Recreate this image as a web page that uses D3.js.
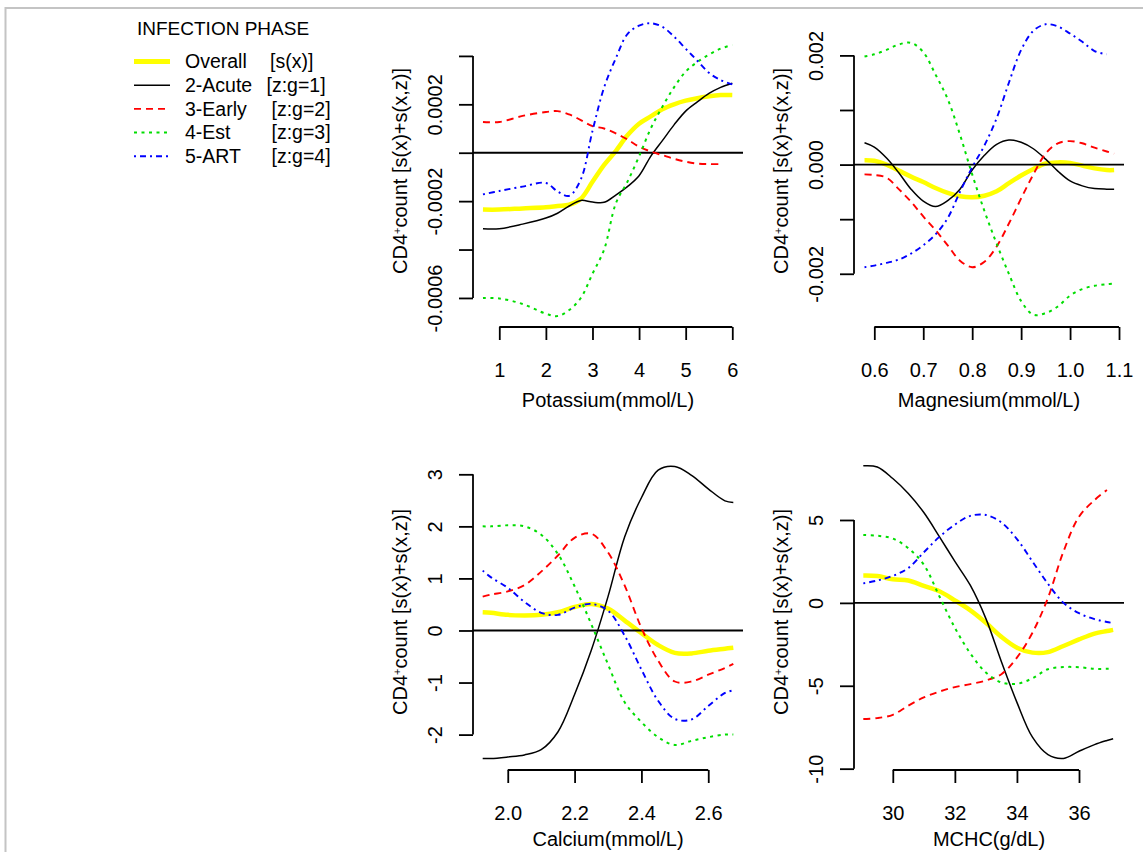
<!DOCTYPE html>
<html>
<head>
<meta charset="utf-8">
<script src="https://cdn.jsdelivr.net/npm/d3@7"></script>
<style>
  body { margin: 0; background: #fff; }
  svg { display: block; }
  text { font-family: Arial, "Liberation Sans", sans-serif; fill: #000; }
</style>
</head>
<body>
<svg id="chart" width="1143" height="852"></svg>
<script>
// ---- legend ----
const seriesNames = ["Overall", "2-Acute", "3-Early", "4-Est", "5-ART"];
const seriesTerms = ["[s(x)]", "[z:g=1]", "[z:g=2]", "[z:g=3]", "[z:g=4]"];
const legendTitle = "INFECTION PHASE";

// ---- Potassium (mmol/L) ----
const kX       = [0.65, 1.0, 1.5, 2.0, 2.25, 2.5, 2.75, 3.0, 3.25, 3.5, 3.75, 4.0, 4.25, 4.5, 4.75, 5.0, 5.25, 5.5, 5.75, 6.0];
const kOverall = [-2.35e-4, -2.35e-4, -2.3e-4, -2.25e-4, -2.2e-4, -2.15e-4, -1.9e-4, -1.2e-4, -0.5e-4, 0.07e-4, 0.72e-4, 1.2e-4, 1.5e-4, 1.8e-4, 2.0e-4, 2.15e-4, 2.25e-4, 2.33e-4, 2.38e-4, 2.38e-4];
const kAcute   = [-3.14e-4, -3.14e-4, -2.95e-4, -2.7e-4, -2.5e-4, -2.2e-4, -1.97e-4, -2.04e-4, -2.05e-4, -1.75e-4, -1.4e-4, -0.95e-4, -0.15e-4, 0.5e-4, 1.15e-4, 1.72e-4, 2.1e-4, 2.45e-4, 2.7e-4, 2.87e-4];
const kEarly   = [1.27e-4, 1.27e-4, 1.52e-4, 1.68e-4, 1.72e-4, 1.58e-4, 1.35e-4, 1.1e-4, 1.0e-4, 0.8e-4, 0.55e-4, 0.25e-4, 0.05e-4, -0.1e-4, -0.25e-4, -0.37e-4, -0.45e-4, -0.47e-4, -0.47e-4, null];
const kEst     = [-6.0e-4, -6.02e-4, -6.25e-4, -6.65e-4, -6.75e-4, -6.5e-4, -6.0e-4, -5.0e-4, -4.0e-4, -2.1e-4, -1.2e-4, -0.15e-4, 1.0e-4, 1.9e-4, 2.7e-4, 3.35e-4, 3.75e-4, 4.05e-4, 4.3e-4, 4.45e-4];
const kArt     = [-1.72e-4, -1.58e-4, -1.4e-4, -1.25e-4, -1.6e-4, -1.78e-4, -1.1e-4, 0.9e-4, 2.7e-4, 3.9e-4, 4.9e-4, 5.25e-4, 5.35e-4, 5.2e-4, 4.8e-4, 4.3e-4, 3.8e-4, 3.3e-4, 3.0e-4, 2.82e-4];
const kXTicks = [1, 2, 3, 4, 5, 6];
const kXTickLabels = ["1", "2", "3", "4", "5", "6"];
const kYTicks = [-0.0006, -0.0004, -0.0002, 0, 0.0002, 0.0004];
const kYTickLabels = ["-0.0006", "", "-0.0002", "", "0.0002", ""];

// ---- Magnesium (mmol/L) ----
const mgX       = [0.58, 0.6, 0.625, 0.65, 0.675, 0.7, 0.725, 0.75, 0.775, 0.8, 0.825, 0.85, 0.875, 0.9, 0.925, 0.95, 0.975, 1.0, 1.025, 1.05, 1.075, 1.09];
const mgOverall = [0.08e-3, 0.07e-3, 0.0, -0.11e-3, -0.22e-3, -0.32e-3, -0.43e-3, -0.52e-3, -0.58e-3, -0.6e-3, -0.57e-3, -0.49e-3, -0.34e-3, -0.2e-3, -0.08e-3, 0.02e-3, 0.04e-3, 0.03e-3, -0.02e-3, -0.07e-3, -0.1e-3, -0.1e-3];
const mgAcute   = [0.40e-3, 0.32e-3, 0.12e-3, -0.15e-3, -0.45e-3, -0.67e-3, -0.77e-3, -0.66e-3, -0.45e-3, -0.1e-3, 0.17e-3, 0.37e-3, 0.45e-3, 0.41e-3, 0.29e-3, 0.1e-3, -0.12e-3, -0.3e-3, -0.39e-3, -0.44e-3, -0.45e-3, -0.45e-3];
const mgEarly   = [-0.18e-3, -0.19e-3, -0.24e-3, -0.45e-3, -0.68e-3, -0.95e-3, -1.2e-3, -1.48e-3, -1.76e-3, -1.88e-3, -1.78e-3, -1.5e-3, -1.08e-3, -0.62e-3, -0.18e-3, 0.2e-3, 0.39e-3, 0.43e-3, 0.39e-3, 0.31e-3, 0.24e-3, 0.2e-3];
const mgEst     = [1.98e-3, 2.02e-3, 2.1e-3, 2.2e-3, 2.23e-3, 2.06e-3, 1.65e-3, 1.2e-3, 0.55e-3, -0.18e-3, -0.85e-3, -1.45e-3, -2.0e-3, -2.5e-3, -2.75e-3, -2.72e-3, -2.6e-3, -2.4e-3, -2.28e-3, -2.22e-3, -2.19e-3, -2.18e-3];
const mgArt     = [-1.88e-3, -1.85e-3, -1.8e-3, -1.74e-3, -1.63e-3, -1.48e-3, -1.28e-3, -0.98e-3, -0.5e-3, -0.05e-3, 0.35e-3, 0.85e-3, 1.5e-3, 2.1e-3, 2.45e-3, 2.57e-3, 2.53e-3, 2.4e-3, 2.25e-3, 2.08e-3, 2.02e-3, null];
const mgXTicks = [0.6, 0.7, 0.8, 0.9, 1.0, 1.1];
const mgXTickLabels = ["0.6", "0.7", "0.8", "0.9", "1.0", "1.1"];
const mgYTicks = [-0.002, -0.001, 0, 0.001, 0.002];
const mgYTickLabels = ["-0.002", "", "0.000", "", "0.002"];

// ---- Calcium (mmol/L) ----
const caX       = [1.925, 1.95, 2.0, 2.05, 2.1, 2.15, 2.2, 2.25, 2.3, 2.35, 2.4, 2.45, 2.5, 2.55, 2.6, 2.65, 2.675];
const caOverall = [0.35, 0.34, 0.3, 0.29, 0.3, 0.35, 0.45, 0.51, 0.42, 0.19, -0.05, -0.28, -0.43, -0.44, -0.39, -0.35, -0.33];
const caAcute   = [-2.46, -2.46, -2.43, -2.39, -2.29, -1.95, -1.23, -0.38, 0.65, 1.8, 2.55, 3.08, 3.15, 2.98, 2.72, 2.49, 2.46];
const caEarly   = [0.65, 0.69, 0.75, 0.87, 1.13, 1.44, 1.78, 1.86, 1.5, 0.86, 0.05, -0.58, -0.98, -0.98, -0.85, -0.72, -0.64];
const caEst     = [2.0, 2.0, 2.02, 2.0, 1.84, 1.47, 0.85, 0.12, -0.65, -1.38, -1.76, -2.05, -2.2, -2.12, -2.05, -2.0, -2.0];
const caArt     = [1.15, 1.02, 0.82, 0.55, 0.34, 0.3, 0.44, 0.51, 0.38, -0.1, -0.75, -1.35, -1.7, -1.71, -1.45, -1.2, -1.15];
const caXTicks = [2.0, 2.2, 2.4, 2.6];
const caXTickLabels = ["2.0", "2.2", "2.4", "2.6"];
const caYTicks = [-2, -1, 0, 1, 2, 3];
const caYTickLabels = ["-2", "-1", "0", "1", "2", "3"];

// ---- MCHC (g/dL) ----
const mcX       = [29.05, 29.5, 30, 30.5, 31, 31.5, 32, 32.5, 33, 33.5, 34, 34.5, 35, 35.5, 36, 36.5, 36.9, 37.1];
const mcOverall = [1.65, 1.62, 1.42, 1.35, 1.02, 0.7, 0.15, -0.45, -1.2, -2.05, -2.7, -3.0, -2.97, -2.6, -2.2, -1.85, -1.7, -1.63];
const mcAcute   = [8.27, 8.2, 7.5, 6.6, 5.45, 4.0, 2.5, 1.05, -0.95, -3.55, -6.0, -8.1, -9.15, -9.38, -8.95, -8.55, -8.3, -8.19];
const mcEarly   = [-7.0, -6.95, -6.75, -6.2, -5.7, -5.35, -5.08, -4.9, -4.68, -4.3, -3.3, -1.8, 0.3, 3.1, 5.2, 6.2, 6.81, null];
const mcEst     = [4.1, 4.05, 3.88, 3.3, 2.3, 0.4, -1.5, -3.05, -4.2, -4.8, -4.88, -4.55, -4.0, -3.87, -3.88, -3.98, -3.98, -3.98];
const mcArt     = [1.18, 1.35, 1.63, 2.1, 3.05, 3.98, 4.72, 5.25, 5.3, 4.85, 3.85, 2.5, 1.15, 0.0, -0.62, -0.98, -1.15, -1.22];
const mcXTicks = [30, 32, 34, 36];
const mcXTickLabels = ["30", "32", "34", "36"];
const mcYTicks = [-10, -5, 0, 5];
const mcYTickLabels = ["-10", "-5", "0", "5"];

const xTitles = ["Potassium(mmol/L)", "Magnesium(mmol/L)", "Calcium(mmol/L)", "MCHC(g/dL)"];

// ---- styling ----
const colors = ["#ffff00", "#000000", "#ff0000", "#00dd00", "#0000ff"];
const widths = [4.5, 1.5, 1.9, 2.0, 1.9];
const dashes = [null, null, "7,5", "3,4.5", "2,4,6,4"];
const FONT = 20;

// plot regions [left, top, right, bottom] and axis limits
const panels = [
  { x: kX,  ys: [kOverall, kAcute, kEarly, kEst, kArt],
    box: [473, 15, 743, 327], xlim: [0.436, 6.23], ylim: [-0.00072, 0.000569],
    xt: kXTicks, xtl: kXTickLabels, yt: kYTicks, ytl: kYTickLabels, xlab: xTitles[0], titleGap: 73 },
  { x: mgX, ys: [mgOverall, mgAcute, mgEarly, mgEst, mgArt],
    box: [854, 15, 1124, 327], xlim: [0.5585, 1.1102], ylim: [-0.002975, 0.00274],
    xt: mgXTicks, xtl: mgXTickLabels, yt: mgYTicks, ytl: mgYTickLabels, xlab: xTitles[1], titleGap: 73 },
  { x: caX, ys: [caOverall, caAcute, caEarly, caEst, caArt],
    box: [473, 454, 743, 770], xlim: [1.896, 2.704], ylim: [-2.68, 3.39],
    xt: caXTicks, xtl: caXTickLabels, yt: caYTicks, ytl: caYTickLabels, xlab: xTitles[2], titleGap: 69 },
  { x: mcX, ys: [mcOverall, mcAcute, mcEarly, mcEst, mcArt],
    box: [854, 454, 1124, 770], xlim: [28.75, 37.45], ylim: [-10.08, 8.98],
    xt: mcXTicks, xtl: mcXTickLabels, yt: mcYTicks, ytl: mcYTickLabels, xlab: xTitles[3], titleGap: 69 }
];

const svg = d3.select("#chart");

// window frame
svg.append("path")
  .attr("d", "M5.5,852 L5.5,8 L1143,8")
  .attr("fill", "none").attr("stroke", "#c4c4c4").attr("stroke-width", 2);

panels.forEach(p => {
  const [L, T, R, B] = p.box;
  const x = d3.scaleLinear().domain(p.xlim).range([L, R]);
  const y = d3.scaleLinear().domain(p.ylim).range([B, T]);
  const g = svg.append("g");

  // curves: overall first, then zero reference, then the phase groups
  const line = d3.line()
    .defined(d => d[1] !== null)
    .x(d => x(d[0])).y(d => y(d[1]))
    .curve(d3.curveCatmullRom.alpha(0.5));

  const drawSeries = i => {
    const pts = p.x.map((xv, j) => [xv, p.ys[i][j]]);
    g.append("path")
      .attr("d", line(pts))
      .attr("fill", "none")
      .attr("stroke", colors[i])
      .attr("stroke-width", widths[i])
      .attr("stroke-dasharray", dashes[i])
      .attr("stroke-linejoin", "round");
  };
  drawSeries(0);
  g.append("line")
    .attr("x1", L).attr("x2", R).attr("y1", y(0)).attr("y2", y(0))
    .attr("stroke", "#000").attr("stroke-width", 1.8);
  [1, 2, 3, 4].forEach(drawSeries);

  // x axis
  const xa = g.append("g").attr("transform", `translate(0,${B})`)
    .call(d3.axisBottom(x).tickValues(p.xt).tickSize(13)
      .tickFormat((d, i) => p.xtl[i]));
  xa.select(".domain").remove();
  xa.selectAll(".tick line").attr("stroke-width", 1.8);
  xa.selectAll(".tick text").attr("y", 43).attr("dy", "0.35em")
    .style("font-size", FONT + "px").style("font-family", "Arial, 'Liberation Sans', sans-serif");
  xa.append("line")
    .attr("x1", x(p.xt[0])).attr("x2", x(p.xt[p.xt.length - 1]))
    .attr("stroke", "#000").attr("stroke-width", 1.8);

  // y axis with labels parallel to the axis
  const ya = g.append("g").attr("transform", `translate(${L},0)`)
    .call(d3.axisLeft(y).tickValues(p.yt).tickSize(14)
      .tickFormat((d, i) => p.ytl[i]));
  ya.select(".domain").remove();
  ya.selectAll(".tick line").attr("stroke-width", 1.8);
  ya.selectAll(".tick text")
    .attr("transform", "rotate(-90)")
    .attr("x", 0).attr("y", -31).attr("dy", null)
    .attr("text-anchor", "middle")
    .style("font-size", FONT + "px").style("font-family", "Arial, 'Liberation Sans', sans-serif");
  ya.append("line")
    .attr("y1", y(p.yt[0])).attr("y2", y(p.yt[p.yt.length - 1]))
    .attr("stroke", "#000").attr("stroke-width", 1.8);

  // axis titles
  g.append("text")
    .attr("x", (L + R) / 2).attr("y", B + p.titleGap).attr("dy", "0.35em")
    .attr("text-anchor", "middle").style("font-size", FONT + "px")
    .text(p.xlab);

  const yt = g.append("text")
    .attr("transform", `translate(${L - 73},${(T + B) / 2}) rotate(-90)`)
    .attr("text-anchor", "middle").attr("dy", "0.35em")
    .style("font-size", FONT + "px");
  yt.append("tspan").text("CD4");
  yt.append("tspan").attr("dy", "-0.55em").style("font-size", "11px").text("+");
  yt.append("tspan").attr("dy", "0.3em").text("count [s(x)+s(x,z)]");
});

// legend
const lg = svg.append("g");
lg.append("text").attr("x", 137).attr("y", 28).attr("dy", "0.35em")
  .style("font-size", "19px").text(legendTitle);
const termX = [270, 266.5, 271.5, 271.5, 271.5];
seriesNames.forEach((name, i) => {
  const cy = 61.5 + i * 23.7;
  lg.append("line")
    .attr("x1", 134).attr("x2", 170).attr("y1", cy).attr("y2", cy)
    .attr("stroke", colors[i])
    .attr("stroke-width", i === 0 ? 5 : widths[i])
    .attr("stroke-dasharray", dashes[i]);
  const t = lg.append("text").attr("y", cy).attr("dy", "0.35em").style("font-size", "19.5px");
  t.append("tspan").attr("x", 185).text(name);
  t.append("tspan").attr("x", termX[i]).text(seriesTerms[i]);
});
</script>
</body>
</html>
